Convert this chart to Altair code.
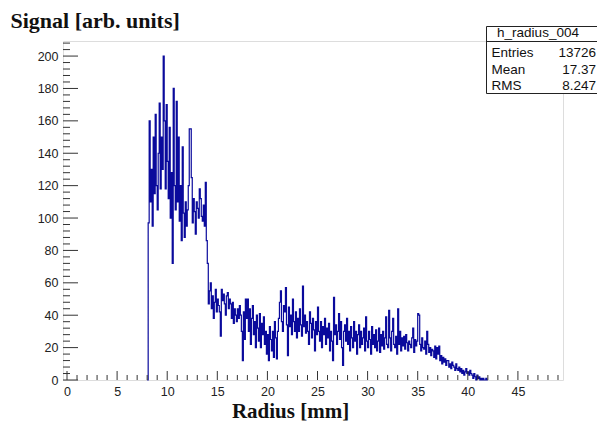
import altair as alt
import pandas as pd

# ---- data (bin width 0.1 mm, first bin starts at 8.0 mm) ----
bin_start = 8.0
bin_width = 0.1
peak_counts = [  # 8.0 - 13.9
    0, 97, 160, 110, 130, 95, 150, 115, 164, 120,
    105, 140, 171, 118, 150, 130, 200, 160, 118, 170,
    135, 112, 156, 100, 128, 72, 180, 120, 105, 172,
    110, 150, 98, 120, 86, 144, 103, 88, 110, 95,
    105, 120, 155, 155, 125, 97, 112, 104, 90, 110,
    106, 100, 118, 112, 101, 98, 108, 95, 122, 86,
]
mid_counts = [  # 14.0 - 24.9
    72, 47, 55, 60, 44, 52, 38, 48, 56, 42,
    50, 46, 42, 27, 56, 49, 53, 47, 40, 52,
    54, 44, 50, 47, 38, 48, 35, 44, 40, 36,
    44, 38, 46, 40, 30, 12, 42, 25, 50, 38,
    50, 30, 44, 22, 38, 46, 28, 36, 20, 40,
    32, 24, 41, 20, 35, 28, 39, 22, 30, 16,
    28, 12, 33, 25, 18, 30, 14, 36, 26, 13,
    30, 38, 48, 55, 36, 30, 46, 42, 57, 34,
    15, 45, 33, 40, 28, 50, 36, 30, 42, 26,
    38, 30, 44, 34, 27, 58, 33, 40, 29, 36,
    30, 22, 42, 35, 26, 38, 31, 18, 36, 28,
]
tail_counts = [  # 25.0 - 41.9
    45, 30, 24, 36, 20, 33, 28, 38, 22, 32,
    26, 35, 18, 30, 24, 12, 51, 28, 34, 22,
    30, 41, 25, 36, 20, 9, 30, 34, 24, 38,
    22, 30, 18, 33, 26, 20, 36, 24, 30, 16,
    28, 34, 20, 30, 22, 26, 32, 18, 39, 24,
    20, 30, 25, 16, 33, 22, 28, 20, 31, 18,
    24, 32, 17, 28, 21, 30, 19, 26, 39, 22,
    20, 43, 26, 18, 30, 38, 22, 20, 27, 16,
    44, 22, 30, 18, 26, 21, 27, 19, 28, 23,
    18, 24, 22, 20, 26, 32, 17, 25, 21, 24,
    41, 40, 22, 18, 26, 20, 19, 24, 16, 30,
    22, 17, 20, 15, 19, 18, 14, 21, 13, 20,
    16, 21, 12, 15, 10, 14, 11, 13, 9, 12,
    12, 8, 10, 7, 11, 9, 8, 6, 10, 7,
    6, 8, 5, 7, 4, 6, 3, 5, 7, 4,
    5, 3, 6, 4, 3, 1, 4, 2, 0, 3,
    1, 2, 0, 1, 0, 1, 0, 0, 1, 0,
]
x_major = [0, 5, 10, 15, 20, 25, 30, 35, 40, 45]
x_minor = [v for v in range(1, 50) if v % 5 != 0]
y_major = list(range(0, 201, 20))
y_minor = [v for v in range(0, 209, 4) if v % 20 != 0]
stats_name = "h_radius_004"
stats_labels = ["Entries", "Mean", "RMS"]
stats_values = ["13726", "17.37", "8.247"]

counts = peak_counts + mid_counts + tail_counts
xs = [round(bin_start + i * bin_width, 2) for i in range(len(counts))]
hist = pd.DataFrame({"r": xs + [round(bin_start + len(counts) * bin_width, 2)],
                     "n": counts + [0]})

W, H = 500, 339
xscale = alt.Scale(domain=[-0.4, 49.5], nice=False, zero=False)
yscale = alt.Scale(domain=[0, 209.3], nice=False, zero=False)
lab_font = "Liberation Sans"
ttl_font = "Liberation Serif"

xaxis = alt.Axis(values=x_major, format="d", tickSize=0, domain=False, grid=False,
                 labelOverlap=False,
                 labelPadding=5, labelFont=lab_font, labelFontSize=12.5, labelColor="#222",
                 title="Radius [mm]", titleFont=ttl_font, titleFontSize=21,
                 titleFontWeight="bold", titleColor="#111", titleX=227, titleY=37,
                 titleAlign="center", titleBaseline="alphabetic")
yaxis = alt.Axis(values=y_major, format="d", tickSize=0, domain=False, grid=False,
                 labelOverlap=False,
                 labelPadding=5, labelFont=lab_font, labelFontSize=12.5, labelColor="#222",
                 title="Signal [arb. units]", titleFont=ttl_font, titleFontSize=22,
                 titleFontWeight="bold", titleColor="#111", titleAngle=0,
                 titleAlign="left", titleBaseline="alphabetic", titleX=-53, titleY=-14)

line = alt.Chart(hist).mark_line(interpolate="step-after", color="#0a0a9c", strokeWidth=1.2).encode(
    x=alt.X("r:Q", scale=xscale, axis=xaxis),
    y=alt.Y("n:Q", scale=yscale, axis=yaxis),
)

tick_col = "#333"
xmaj = alt.Chart(pd.DataFrame({"t": x_major})).mark_rule(color=tick_col, strokeWidth=1).encode(
    x=alt.X("t:Q", scale=xscale, axis=xaxis), y=alt.value(H), y2=alt.value(H - 9))
xmin = alt.Chart(pd.DataFrame({"t": x_minor})).mark_rule(color=tick_col, strokeWidth=1).encode(
    x=alt.X("t:Q", scale=xscale, axis=xaxis), y=alt.value(H), y2=alt.value(H - 5))
ymaj = alt.Chart(pd.DataFrame({"t": y_major})).mark_rule(color=tick_col, strokeWidth=1).encode(
    y=alt.Y("t:Q", scale=yscale, axis=yaxis), x=alt.value(0), x2=alt.value(15))
ymin = alt.Chart(pd.DataFrame({"t": y_minor})).mark_rule(color=tick_col, strokeWidth=1).encode(
    y=alt.Y("t:Q", scale=yscale, axis=yaxis), x=alt.value(0), x2=alt.value(7))

# stats box
bx0, bx1, by0, by1, bsep = 423.5, 545, -14.5, 52.5, 0.5
box = alt.Chart(pd.DataFrame({"a": [0]})).mark_rect(fill="white", stroke="#222", strokeWidth=1).encode(
    x=alt.value(bx0), x2=alt.value(bx1), y=alt.value(by0), y2=alt.value(by1))
sep = alt.Chart(pd.DataFrame({"a": [0]})).mark_rule(color="#222", strokeWidth=1).encode(
    x=alt.value(bx0), x2=alt.value(bx1), y=alt.value(bsep))
name_txt = alt.Chart(pd.DataFrame({"s": [stats_name]})).mark_text(
    font=lab_font, fontSize=13.5, color="#111", align="center", baseline="alphabetic").encode(
    text="s:N", x=alt.value(475), y=alt.value(-4.5))
sdf = pd.DataFrame({"lab": stats_labels, "val": stats_values, "yy": [15.5, 32.5, 48.5]})
lab_txt = alt.Chart(sdf).mark_text(font=lab_font, fontSize=13.5, color="#111", align="left",
                                   baseline="alphabetic").encode(
    text="lab:N", x=alt.value(428.5), y=alt.Y("yy:Q", scale=None))
val_txt = alt.Chart(sdf).mark_text(font=lab_font, fontSize=13.5, color="#111", align="right",
                                   baseline="alphabetic").encode(
    text="val:N", x=alt.value(533), y=alt.Y("yy:Q", scale=None))

chart = alt.layer(line, xmaj, xmin, ymaj, ymin, box, sep, name_txt, lab_txt, val_txt).properties(
    width=W, height=H,
    padding={"left": 55, "top": 33, "right": 34, "bottom": 41},
    autosize=alt.AutoSizeParams(type="none"),
).configure_view(stroke="#333", strokeWidth=1).configure(background="white")

chart.save("out.html", embed_options={"renderer": "svg", "actions": False})
